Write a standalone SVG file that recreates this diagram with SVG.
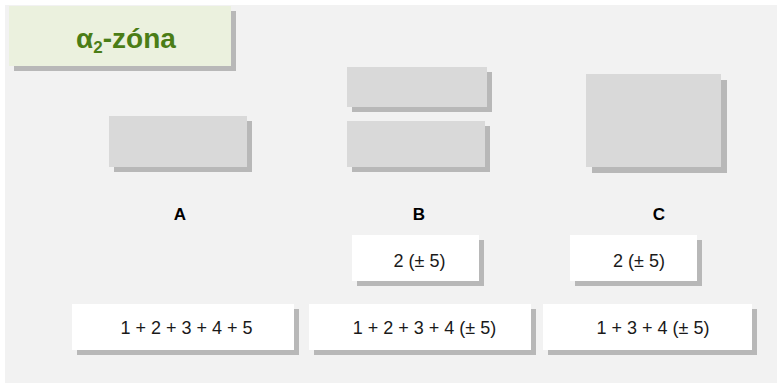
<svg xmlns="http://www.w3.org/2000/svg" width="782" height="387" viewBox="0 0 782 387">
<style>
.bg{fill:#f2f2f2}
.sh{fill:#b8b8b8}
.gr{fill:#d9d9d9}
.wh{fill:#ffffff}
.tt{fill:#ebf1de}
.t{font-family:"Liberation Sans",Arial,sans-serif;font-size:18px;fill:#1a1a1a;text-anchor:middle}
.lb{font-family:"Liberation Sans",Arial,sans-serif;font-size:17px;font-weight:bold;fill:#000;text-anchor:middle}
.ti{font-family:"Liberation Sans",Arial,sans-serif;font-size:28px;font-weight:bold;fill:#4a7d16;text-anchor:middle}
</style>
<rect class="bg" x="5" y="5" width="772" height="378"/>
<g id="title">
<rect class="sh" x="14" y="11" width="222" height="60"/>
<rect class="tt" x="9" y="6" width="222" height="60"/>
<text class="ti" x="126" y="48">α<tspan font-size="17" dy="5">2</tspan><tspan dy="-5">-zóna</tspan></text>
</g>
<g id="shapeA">
<rect class="sh" x="114" y="121" width="138" height="51"/>
<rect class="gr" x="109" y="116" width="138" height="51"/>
</g>
<g id="shapeB1">
<rect class="sh" x="352" y="72" width="140" height="40"/>
<rect class="gr" x="347" y="67" width="140" height="40"/>
</g>
<g id="shapeB2">
<rect class="sh" x="352" y="126" width="138" height="46"/>
<rect class="gr" x="347" y="121" width="138" height="46"/>
</g>
<g id="shapeC">
<rect class="sh" x="592" y="80" width="135" height="93"/>
<rect class="gr" x="586" y="74" width="135" height="93"/>
</g>
<g id="labelA"><text class="lb" x="180" y="220">A</text></g>
<g id="labelB"><text class="lb" x="419" y="220">B</text></g>
<g id="labelC"><text class="lb" x="659" y="220">C</text></g>
<g id="noteB">
<rect class="sh" x="357" y="240" width="127" height="46"/>
<rect class="wh" x="352" y="235" width="127" height="46"/>
<text class="t" x="419.5" y="266.5">2 (± 5)</text>
</g>
<g id="noteC">
<rect class="sh" x="575" y="240" width="127" height="46"/>
<rect class="wh" x="570" y="235" width="127" height="46"/>
<text class="t" x="639" y="266.5">2 (± 5)</text>
</g>
<g id="sumA">
<rect class="sh" x="77" y="309" width="222" height="46"/>
<rect class="wh" x="72" y="304" width="222" height="46"/>
<text class="t" x="186.5" y="334">1 + 2 + 3 + 4 + 5</text>
</g>
<g id="sumB">
<rect class="sh" x="314" y="309" width="222" height="46"/>
<rect class="wh" x="309" y="304" width="222" height="46"/>
<text class="t" x="424.5" y="334">1 + 2 + 3 + 4 (± 5)</text>
</g>
<g id="sumC">
<rect class="sh" x="548" y="309" width="209" height="46"/>
<rect class="wh" x="543" y="304" width="209" height="46"/>
<text class="t" x="653" y="334">1 + 3 + 4 (± 5)</text>
</g>
<g id="connectors"/>
</svg>
